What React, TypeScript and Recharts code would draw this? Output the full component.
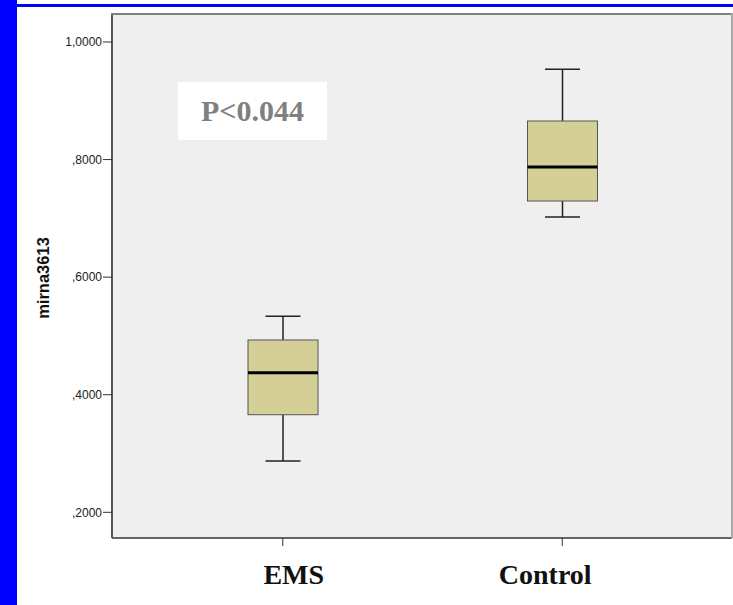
import { ComposedChart, Bar, XAxis, YAxis, CartesianGrid } from 'recharts'

const groups = ['EMS', 'Control']
const mins = [0.2873, 0.7023]
const q1s = [0.366, 0.7295]
const medians = [0.4375, 0.7874]
const q3s = [0.4931, 0.8656]
const maxs = [0.5334, 0.9536]
const yTicks = [0.2, 0.4, 0.6, 0.8, 1.0]
const yDomain = [0.1563, 1.0459]
const yLabel = 'mirna3613'
const pLabel = 'P<0.044'

// labels in the original sit a bit off their ticks
const labelNudge: Record<string, number> = { EMS: 11, Control: -17 }

const data = groups.map((g, i) => ({
  group: g,
  range: [mins[i], maxs[i]],
  min: mins[i],
  q1: q1s[i],
  median: medians[i],
  q3: q3s[i],
  max: maxs[i],
}))

const formatTick = (v: number) => v.toFixed(4).replace('.', ',').replace(/^0/, '')

const BoxShape = (props: any) => {
  const { x, y, width, height, payload } = props
  const top = Math.min(y, y + height)
  const h = Math.abs(height)
  const { min, max, q1, median, q3 } = payload
  const py = (v: number) => top + ((max - v) / (max - min)) * h
  const cx = x + width / 2
  const cap = width / 4
  return (
    <g>
      <line x1={cx} x2={cx} y1={py(max)} y2={py(q3)} stroke="#222" strokeWidth={1.5} />
      <line x1={cx} x2={cx} y1={py(q1)} y2={py(min)} stroke="#222" strokeWidth={1.5} />
      <line x1={cx - cap} x2={cx + cap} y1={py(max)} y2={py(max)} stroke="#222" strokeWidth={1.5} />
      <line x1={cx - cap} x2={cx + cap} y1={py(min)} y2={py(min)} stroke="#222" strokeWidth={1.5} />
      <rect x={x} y={py(q3)} width={width} height={py(q1) - py(q3)} fill="#d4cf97" stroke="#555" strokeWidth={1} />
      <line x1={x} x2={x + width} y1={py(median)} y2={py(median)} stroke="#000" strokeWidth={3} />
    </g>
  )
}

const GroupTick = (props: any) => {
  const { x, y, payload } = props
  return (
    <text
      x={x + (labelNudge[payload.value] || 0)}
      y={y + 36}
      textAnchor="middle"
      fontFamily="'Liberation Serif', serif"
      fontWeight="bold"
      fontSize={28}
      fill="#111"
    >
      {payload.value}
    </text>
  )
}

const YLabel = () => (
  <text
    x={42.5}
    y={278}
    transform="rotate(-90 42.5 278)"
    textAnchor="middle"
    dominantBaseline="central"
    fontFamily="'Liberation Sans', Arial, sans-serif"
    fontWeight="bold"
    fontSize={16.5}
    fill="#111"
  >
    {yLabel}
  </text>
)

export default function App() {
  return (
    <div style={{ position: 'absolute', left: 0, top: 0, width: 733, height: 605, background: '#fff' }}>
      <div style={{ position: 'absolute', left: 0, top: 0, width: 17, height: 605, background: '#0000ff' }} />
      <div style={{ position: 'absolute', left: 17, top: 4, width: 716, height: 3, background: '#0000ff' }} />
      <ComposedChart
        width={733}
        height={605}
        data={data}
        margin={{ top: 15, right: 1, bottom: 7, left: 0 }}
        style={{ position: 'absolute', left: 0, top: 0 }}
      >
        <CartesianGrid fill="#efefef" horizontal={false} vertical={false} />
        <XAxis
          dataKey="group"
          height={60}
          padding={{ left: 31, right: 30 }}
          tickSize={8}
          tickLine={{ stroke: '#333' }}
          axisLine={{ stroke: '#333', strokeWidth: 1.5 }}
          tick={<GroupTick />}
          interval={0}
        />
        <YAxis
          type="number"
          width={112}
          domain={yDomain}
          ticks={yTicks}
          allowDataOverflow
          tickFormatter={formatTick}
          tickSize={9}
          tickMargin={1}
          tickLine={{ stroke: '#333' }}
          axisLine={{ stroke: '#555', strokeWidth: 2 }}
          tick={{ fontSize: 12, fill: '#222', fontFamily: "'Liberation Sans', Arial, sans-serif" }}
          label={<YLabel />}
        />
        <Bar dataKey="range" barSize={70} shape={<BoxShape />} isAnimationActive={false} />
      </ComposedChart>
      {/* top and right edges of the plot frame */}
      <div style={{ position: 'absolute', zIndex: 5, left: 111, top: 13, width: 621, height: 2, background: '#808080' }} />
      <div style={{ position: 'absolute', zIndex: 5, left: 731, top: 13, width: 2, height: 525, background: '#a8a8a8' }} />
      <div
        style={{
          position: 'absolute',
          zIndex: 5,
          left: 178,
          top: 82,
          width: 149,
          height: 58,
          background: '#fff',
          display: 'flex',
          alignItems: 'center',
          justifyContent: 'center',
          fontFamily: "'Liberation Serif', serif",
          fontWeight: 'bold',
          fontSize: 30,
          color: '#808080',
        }}
      >
        {pLabel}
      </div>
    </div>
  )
}
